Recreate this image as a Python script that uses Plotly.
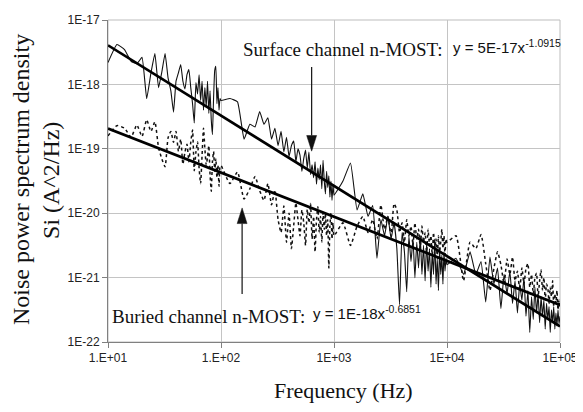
import plotly.graph_objects as go

# ---------------- data ----------------
frequency_hz = [
    10, 12, 14, 16, 18, 20, 22, 24, 26, 28, 30, 32, 34, 36, 38, 40, 42, 44, 46, 48,
    50, 52, 54, 56, 58, 60, 62, 64, 66, 68, 70, 72, 74, 76, 78, 80, 82, 84, 86, 88,
    90, 92, 94, 96, 98,
    100, 120, 140, 160, 180, 200, 220, 240, 260, 280, 300, 320, 340, 360, 380, 400, 420, 440, 460, 480,
    500, 520, 540, 560, 580, 600, 620, 640, 660, 680, 700, 720, 740, 760, 780, 800, 820, 840, 860, 880,
    900, 920, 940, 960, 980,
    1000, 1200, 1400, 1600, 1800, 2000, 2200, 2400, 2600, 2800, 3000, 3200, 3400, 3600, 3800, 4000, 4200, 4400, 4600, 4800,
    5000, 5200, 5400, 5600, 5800, 6000, 6200, 6400, 6600, 6800, 7000, 7200, 7400, 7600, 7800, 8000, 8200, 8400, 8600, 8800,
    9000, 9200, 9400, 9600, 9800,
    10000, 12000, 14000, 16000, 18000, 20000, 22000, 24000, 26000, 28000, 30000, 32000, 34000, 36000, 38000, 40000, 42000, 44000, 46000, 48000,
    50000, 52000, 54000, 56000, 58000, 60000, 62000, 64000, 66000, 68000, 70000, 72000, 74000, 76000, 78000, 80000, 82000, 84000, 86000, 88000,
    90000, 92000, 94000, 96000, 98000,
    100000,
]

# log10 of the noise power spectral density (A^2/Hz)
surface_log10_psd = [
    -17.66, -17.38, -17.46, -17.64, -17.68, -17.58, -18.22, -17.82, -17.52, -18.05,
    -17.80, -17.52, -17.90, -18.10, -18.43, -17.95, -17.82, -17.69, -17.95, -18.07,
    -17.85, -17.77, -18.05, -18.30, -18.60, -17.97, -18.15, -17.85, -18.25, -17.95,
    -18.40, -18.05, -18.35, -17.95, -18.45, -18.10, -18.55, -18.78, -18.20, -17.78,
    -17.72, -18.30, -18.05, -18.40, -18.22,
    -18.25, -18.22, -18.27, -18.85, -18.62, -18.66, -18.42, -18.62, -18.52, -18.85,
    -18.68, -18.95, -18.73, -19.05, -18.82, -19.12, -18.95, -18.88, -19.20, -19.00,
    -19.10, -19.35, -19.15, -19.02, -19.30, -19.05, -19.40, -19.25, -19.45, -19.20,
    -19.55, -19.30, -19.48, -19.25, -19.62, -19.18, -19.50, -19.70, -19.35, -19.60,
    -19.42, -19.75, -19.50, -19.80, -19.55,
    -19.72, -19.50, -19.22, -19.95, -19.70, -20.05, -19.88, -20.70, -20.10, -20.35,
    -20.05, -20.40, -20.15, -20.55, -21.42, -20.30, -20.60, -21.22, -20.35, -20.75,
    -20.40, -21.00, -20.45, -20.85, -20.35, -20.95, -20.50, -21.05, -20.45, -20.90,
    -20.55, -21.15, -20.60, -20.95, -20.40, -21.10, -20.70, -21.20, -20.55, -20.95,
    -20.65, -21.10, -20.60, -20.90, -20.70,
    -20.80, -20.70, -20.95, -20.60, -20.95, -20.75, -21.38, -20.68, -21.10, -20.85,
    -21.48, -20.95, -21.25, -20.90, -21.40, -21.05, -21.55, -21.10, -21.35, -21.00,
    -21.60, -21.20, -21.85, -21.30, -21.65, -21.15, -21.55, -21.25, -21.70, -21.30,
    -21.60, -21.35, -21.80, -21.40, -21.65, -21.45, -21.85, -21.50, -21.70, -21.45,
    -21.80, -21.55, -21.75, -21.50, -21.72,
    -21.60,
]

buried_log10_psd = [
    -18.80, -18.64, -18.68, -18.82, -18.63, -18.81, -18.55, -18.73, -18.58, -18.98,
    -19.16, -19.28, -18.83, -18.73, -18.90, -18.73, -19.04, -18.85, -19.24, -19.05,
    -18.93, -19.20, -18.90, -18.71, -19.34, -19.05, -18.89, -19.30, -19.54, -19.10,
    -18.68, -19.00, -19.25, -19.13, -18.95, -19.40, -19.66, -19.20, -19.04, -19.35,
    -19.15, -19.45, -19.25, -19.58, -19.28,
    -19.26, -19.54, -19.36, -19.78, -19.62, -19.43, -19.65, -19.80, -19.54, -19.87,
    -19.64, -20.10, -20.30, -19.89, -20.45, -20.00, -20.55, -20.19, -19.84, -20.10,
    -20.35, -19.95, -20.15, -20.50, -19.94, -20.15, -19.85, -20.40, -20.05, -20.60,
    -20.10, -19.90, -20.30, -20.05, -20.45, -19.99, -20.25, -20.00, -20.35, -20.10,
    -20.85, -20.20, -20.00, -20.40, -20.15,
    -20.35, -20.15, -20.50, -20.20, -20.05, -20.30, -20.10, -20.40, -19.87, -20.25,
    -20.05, -20.35, -19.85, -19.95, -20.30, -20.15, -20.45, -20.10, -20.35, -20.20,
    -20.50, -20.15, -20.40, -20.25, -20.55, -20.20, -20.45, -20.30, -20.60, -20.25,
    -20.50, -20.35, -20.65, -20.30, -20.55, -20.40, -20.70, -20.35, -20.60, -20.45,
    -20.25, -20.55, -20.35, -20.65, -20.40,
    -20.45, -20.35, -21.05, -20.45, -20.55, -20.33, -20.78, -21.20, -20.86, -20.60,
    -20.80, -21.10, -20.71, -20.95, -20.68, -21.05, -20.90, -21.20, -20.85, -21.10,
    -20.86, -20.78, -21.15, -20.95, -21.25, -21.00, -20.93, -21.30, -21.05, -20.88,
    -21.20, -21.00, -21.35, -21.10, -21.16, -21.40, -21.15, -21.30, -21.05, -21.45,
    -21.25, -21.40, -21.20, -21.50, -21.35,
    -21.45,
]

# power-law trend lines y = a * x^b (from the equations printed on the chart)
surface_fit_coef = 5e-17
surface_fit_exp = -1.0915
buried_fit_coef = 1e-18
buried_fit_exp = -0.6851
fit_freq_hz = [10, 100000]

x_tick_vals = [10, 100, 1000, 10000, 100000]
x_tick_text = ["1.E+01", "1.E+02", "1E+03", "1E+04", "1E+05"]
y_tick_vals = [1e-22, 1e-21, 1e-20, 1e-19, 1e-18, 1e-17]
y_tick_text = ["1E-22", "1E-21", "1E-20", "1E-19", "1E-18", "1E-17"]

# ---------------- figure ----------------
# the page body has an 8 px margin, so the figure starts 8 px in from the window corner
OFF = 8
W, H = 583 - OFF, 412 - OFF
PLOT_L, PLOT_R, PLOT_T, PLOT_B = 108, 563, 13, 342     # plot area in window pixels
ML, MT = PLOT_L - OFF, PLOT_T - OFF
MR, MB = W - (PLOT_R - OFF), H - (PLOT_B - OFF)
PW, PH = PLOT_R - PLOT_L, PLOT_B - PLOT_T


def px_x(px):
    return (px - PLOT_L) / PW


def px_y(py):
    return (PLOT_B - py) / PH


surface_psd = [10 ** v for v in surface_log10_psd]
buried_psd = [10 ** v for v in buried_log10_psd]
surface_fit_psd = [surface_fit_coef * f ** surface_fit_exp for f in fit_freq_hz]
buried_fit_psd = [buried_fit_coef * f ** buried_fit_exp for f in fit_freq_hz]

fig = go.Figure()
fig.add_trace(go.Scatter(x=frequency_hz, y=buried_psd, mode="lines",
                         line=dict(color="#111111", width=1.5, dash="dot", shape="spline", smoothing=0.5),
                         showlegend=False))
fig.add_trace(go.Scatter(x=frequency_hz, y=surface_psd, mode="lines",
                         line=dict(color="#111111", width=1.1, shape="spline", smoothing=0.35),
                         showlegend=False))
fig.add_trace(go.Scatter(x=fit_freq_hz, y=surface_fit_psd, mode="lines",
                         line=dict(color="#000000", width=2.7), showlegend=False))
fig.add_trace(go.Scatter(x=fit_freq_hz, y=buried_fit_psd, mode="lines",
                         line=dict(color="#000000", width=2.7), showlegend=False))

serif = "Liberation Serif, Times New Roman, serif"
sans = "Liberation Sans, Arial, sans-serif"

annotations = [
    dict(text="Noise power spectrum density", textangle=-90, xref="paper", yref="paper",
         x=px_x(20), y=px_y(176), xanchor="center", yanchor="middle", showarrow=False,
         font=dict(family=serif, size=24, color="#111")),
    dict(text="Si (A^2/Hz)", textangle=-90, xref="paper", yref="paper",
         x=px_x(50), y=px_y(177), xanchor="center", yanchor="middle", showarrow=False,
         font=dict(family=serif, size=24, color="#111")),
    dict(text="Frequency (Hz)", xref="paper", yref="paper",
         x=px_x(345), y=px_y(392), xanchor="center", yanchor="middle", showarrow=False,
         font=dict(family=serif, size=22, color="#111")),
    dict(text="Surface channel n-MOST:", xref="paper", yref="paper",
         x=px_x(242), y=px_y(43), xanchor="left", yanchor="middle", showarrow=False,
         font=dict(family=serif, size=19, color="#111")),
    dict(text="y = 5E-17x<sup>-1.0915</sup>", xref="paper", yref="paper",
         x=px_x(453), y=px_y(40), xanchor="left", yanchor="middle", showarrow=False,
         font=dict(family=sans, size=15, color="#111")),
    dict(text="Buried channel n-MOST:", xref="paper", yref="paper",
         x=px_x(110), y=px_y(316), xanchor="left", yanchor="middle", showarrow=False,
         font=dict(family=serif, size=19, color="#111")),
    dict(text="y = 1E-18x<sup>-0.6851</sup>", xref="paper", yref="paper",
         x=px_x(312), y=px_y(312), xanchor="left", yanchor="middle", showarrow=False,
         font=dict(family=sans, size=15, color="#111")),
]


def arrow_shapes(px, py_tail, py_tip):
    head_len, head_half = 16, 5
    direction = 1 if py_tip > py_tail else -1
    base = py_tip - direction * head_len
    line = dict(type="line", xref="paper", yref="paper",
                x0=px_x(px), x1=px_x(px), y0=px_y(py_tail), y1=px_y(base),
                line=dict(color="#111", width=1.2))
    path = "M {a},{b} L {c},{b} L {d},{e} Z".format(
        a=px_x(px - head_half), b=px_y(base), c=px_x(px + head_half), d=px_x(px), e=px_y(py_tip))
    head = dict(type="path", xref="paper", yref="paper", path=path,
                fillcolor="#111", line=dict(color="#111", width=0.5))
    return [line, head]


shapes = [dict(type="rect", xref="paper", yref="paper", x0=0, x1=1, y0=0, y1=1,
               line=dict(color="#bdbdbd", width=1), layer="below")]
shapes += arrow_shapes(313, 61, 147)
shapes += arrow_shapes(243, 293, 205)

axis_common = dict(
    showgrid=True, gridcolor="#c4c4c4", gridwidth=1, zeroline=False,
    showline=True, linecolor="#808080", linewidth=1,
    ticks="outside", ticklen=5, tickcolor="#808080",
    ticklabeloverflow="allow",
    tickfont=dict(family=sans, size=12, color="#222"),
)

fig.update_layout(
    width=W, height=H,
    margin=dict(l=ML, r=MR, t=MT, b=MB, pad=0),
    paper_bgcolor="white", plot_bgcolor="white",
    showlegend=False,
    annotations=annotations,
    shapes=shapes,
    xaxis=dict(type="log", range=[1, 5], tickvals=x_tick_vals, ticktext=x_tick_text, **axis_common),
    yaxis=dict(type="log", range=[-22, -17], tickvals=y_tick_vals, ticktext=y_tick_text, **axis_common),
)

fig.write_html("out.html")
